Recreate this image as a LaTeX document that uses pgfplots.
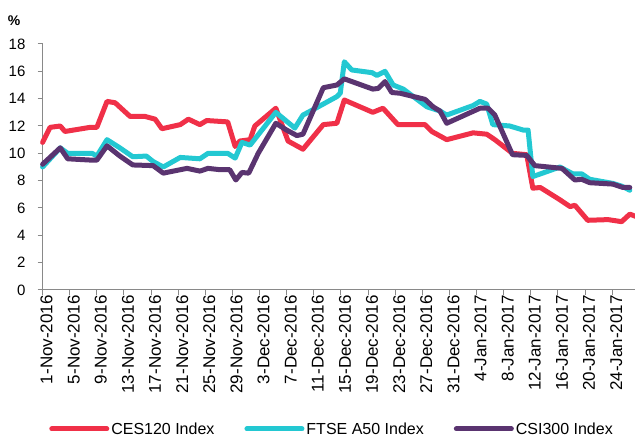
\documentclass[border=0pt]{standalone}
\usepackage{pgfplots}
\pgfplotsset{compat=1.18}
\usepackage{fontspec}
\setmainfont{Liberation Sans}
\definecolor{cesred}{RGB}{240,48,72}
\definecolor{ftsecyan}{RGB}{35,200,210}
\definecolor{csipurple}{RGB}{90,52,112}
\definecolor{axgray}{RGB}{137,137,137}
\begin{document}
\begin{tikzpicture}
\begin{axis}[
  scale only axis, width=592.4pt, height=246pt,
  xmin=0, xmax=87.37, ymin=0, ymax=18,
  axis x line*=bottom, axis y line*=left,
  axis line style={axgray, line width=1pt},
  tick style={axgray, line width=1pt},
  tick align=outside, major tick length=5pt,
  xtick={0,4,...,84},
  xticklabels={1-Nov-2016,5-Nov-2016,9-Nov-2016,13-Nov-2016,17-Nov-2016,21-Nov-2016,25-Nov-2016,29-Nov-2016,3-Dec-2016,7-Dec-2016,11-Dec-2016,15-Dec-2016,19-Dec-2016,23-Dec-2016,27-Dec-2016,31-Dec-2016,4-Jan-2017,8-Jan-2017,12-Jan-2017,16-Jan-2017,20-Jan-2017,24-Jan-2017},
  xticklabel style={rotate=90, anchor=east, font=\fontsize{17}{17}\selectfont, inner sep=0pt, text=black, yshift=-4pt},
  ytick={0,2,...,18},
  yticklabel style={anchor=east, font=\fontsize{15}{15}\selectfont, inner sep=0pt, text=black, xshift=-12pt},
  /pgf/number format/assume math mode=true,
  clip=false,
  legend columns=3,
  legend style={at={(axis description cs:0.4886,-0.565)}, anchor=center, draw=none, fill=none,
    font=\fontsize{16}{16}\selectfont, inner xsep=0pt,
    nodes={inner xsep=2pt},
    /tikz/every even column/.append style={column sep=28pt}},
  legend image code/.code={\draw[#1] (0pt,0pt) -- (55pt,0pt);},
  every axis plot/.append style={line width=5pt, line join=round, line cap=round},
]
\addplot[cesred] coordinates {
(0,10.8)(1.1,11.9)(2.6,12.0)(3.3,11.6)(7,11.9)(8,11.9)(9.5,13.8)(10.7,13.7)(12.9,12.7)(15.1,12.7)(16.6,12.5)(17.6,11.8)(20.3,12.1)(21.5,12.5)(23.2,12.1)(24.2,12.4)(27.3,12.3)(28.4,10.5)(29.1,10.9)(30.6,11.0)(31.3,12.0)(34.4,13.3)(36.2,10.9)(38.4,10.3)(41.4,12.1)(43.4,12.2)(44.5,13.9)(48.7,13.0)(50.2,13.3)(52.4,12.1)(56.4,12.1)(57.4,11.6)(59.6,11.0)(63.5,11.5)(65.5,11.4)(66.7,11.0)(69.3,10.0)(71.4,9.9)(72.3,7.45)(73.4,7.5)(76.3,6.6)(77.8,6.1)(78.5,6.2)(80.4,5.1)(83.4,5.15)(85.4,5.0)(86.6,5.55)(87.4,5.4)
};
\addlegendentry{CES120 Index}
\addplot[ftsecyan] coordinates {
(0,9.0)(2.6,10.4)(3.7,10.0)(7.3,10.0)(8,9.8)(9.5,11.0)(11.4,10.4)(13.3,9.75)(15.3,9.8)(16.3,9.4)(17.8,9.0)(20.3,9.7)(23.2,9.6)(24.4,10.0)(27.3,10.0)(28.4,9.65)(29.4,10.8)(30.6,10.6)(34.4,13.0)(37.2,11.85)(38.4,12.8)(39.9,13.2)(43.4,14.15)(43.9,14.4)(44.5,16.7)(45.6,16.1)(48.6,15.9)(49.3,15.7)(50.5,16.0)(51.7,15.0)(53.2,14.7)(56.7,13.4)(58.6,13.1)(59.6,12.8)(63.5,13.5)(64.5,13.8)(65.5,13.6)(66.4,12.1)(68.9,12.0)(70.9,11.7)(71.6,11.7)(72.3,8.3)(76.3,9.0)(78.2,8.5)(79.5,8.5)(80.7,8.1)(84.1,7.8)(85.4,7.6)(86.6,7.3)
};
\addlegendentry{FTSE A50 Index}
\addplot[csipurple] coordinates {
(0,9.2)(2.6,10.4)(3.7,9.6)(7.3,9.5)(8,9.5)(9.5,10.55)(11.4,9.8)(13.3,9.15)(16.3,9.1)(17.8,8.55)(21.3,8.9)(23.2,8.7)(24.4,8.9)(26.2,8.8)(27.6,8.8)(28.5,8.05)(29.4,8.6)(30.4,8.55)(31.8,10.0)(34.4,12.2)(36.0,11.7)(37.5,11.3)(38.4,11.4)(41.4,14.8)(43.4,15.0)(44.5,15.45)(48.7,14.7)(49.5,14.75)(50.5,15.25)(51.5,14.45)(52.7,14.4)(56.4,13.95)(57.6,13.4)(58.6,13.1)(59.6,12.2)(64.5,13.3)(65.7,13.3)(66.7,12.8)(69.3,9.9)(71.4,9.85)(72.6,9.1)(76.6,8.9)(78.5,8.05)(79.5,8.1)(80.7,7.85)(84.1,7.75)(85.6,7.5)(86.6,7.5)
};
\addlegendentry{CSI300 Index}
\node[font=\bfseries\fontsize{14}{14}\selectfont] at (axis description cs:-0.0483,1.095) {\%};
\end{axis}
\pgfresetboundingbox
\path (-42.6pt,-148pt) rectangle (592.4pt,290pt);
\end{tikzpicture}
\end{document}
